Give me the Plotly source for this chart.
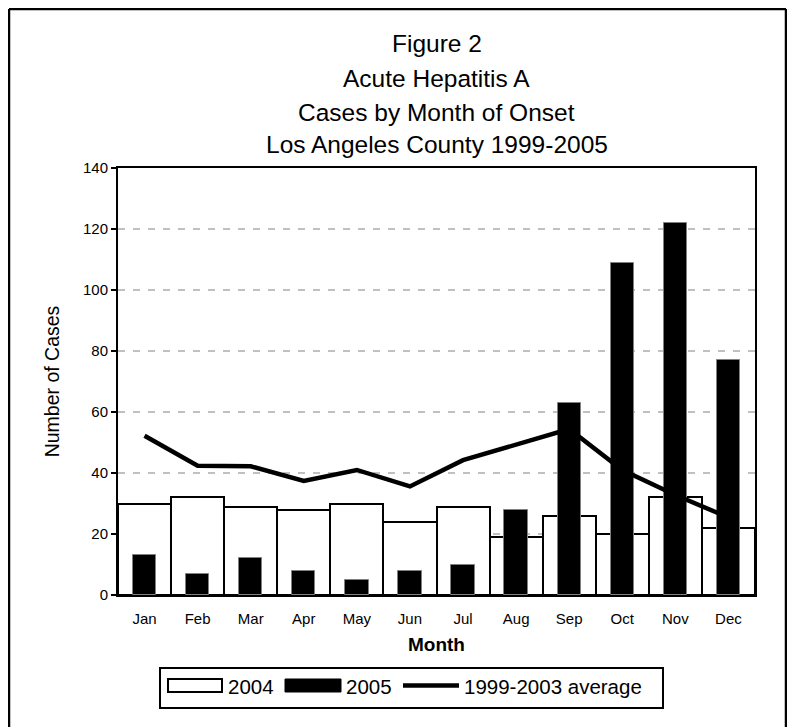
import plotly.graph_objects as go

months = ["Jan", "Feb", "Mar", "Apr", "May", "Jun", "Jul", "Aug", "Sep", "Oct", "Nov", "Dec"]
cases_2004 = [30, 32, 29, 28, 30, 24, 29, 19, 26, 20, 32, 22]
cases_2005 = [13, 7, 12, 8, 5, 8, 10, 28, 63, 109, 122, 77]
avg_1999_2003 = [52.2, 42.4, 42.2, 37.4, 41.0, 35.6, 44.2, 49.3, 54.4, 41.0, 32.8, 25.4]
series_names = ["2004", "2005", "1999-2003 average"]
title_lines = ["Figure 2", "Acute Hepatitis A", "Cases by Month of Onset", "Los Angeles County 1999-2005"]

OFF = 8  # default page body margin
W, H = 787, 719
L, R, T, B = 110, 40, 160, 132
PW, PH = W - L - R, H - T - B

def px(x):
    return ((x - OFF) - L) / PW

def py(y):
    return ((H - B) - (y - OFF)) / PH

FONT = "Liberation Sans, Arial, sans-serif"

fig = go.Figure()
fig.add_trace(go.Bar(x=months, y=cases_2004, name=series_names[0], width=1.0, showlegend=False,
                     marker=dict(color="white", line=dict(color="black", width=2))))
fig.add_trace(go.Bar(x=months, y=cases_2005, name=series_names[1], width=0.44, showlegend=False,
                     marker=dict(color="black", line=dict(color="#808080", width=1))))
fig.add_trace(go.Scatter(x=months, y=avg_1999_2003, name=series_names[2], mode="lines", showlegend=False,
                         line=dict(color="black", width=4.5)))

annotations = []
title_y = [44, 78, 112, 145]
for txt, yy in zip(title_lines, title_y):
    annotations.append(dict(text=txt, x=px(436.5), y=py(yy), xref="paper", yref="paper",
                            showarrow=False, xanchor="center", yanchor="middle",
                            font=dict(size=24.5, color="black", family=FONT)))

# frame around the figure
shapes = [
    dict(type="line", xref="paper", yref="paper", x0=px(9), x1=px(9), y0=py(9), y1=py(740),
         line=dict(color="black", width=2.5)),
    dict(type="line", xref="paper", yref="paper", x0=px(9), x1=px(786), y0=py(9), y1=py(9),
         line=dict(color="black", width=2.5)),
    dict(type="line", xref="paper", yref="paper", x0=px(786), x1=px(786), y0=py(9), y1=py(740),
         line=dict(color="black", width=2.5)),
]

# legend box and keys
shapes.append(dict(type="rect", xref="paper", yref="paper", x0=px(160), x1=px(663), y0=py(668), y1=py(708),
                   line=dict(color="black", width=2), fillcolor="white", layer="above"))
shapes.append(dict(type="rect", xref="paper", yref="paper", x0=px(168), x1=px(222), y0=py(679), y1=py(692),
                   line=dict(color="black", width=2), fillcolor="white", layer="above"))
shapes.append(dict(type="rect", xref="paper", yref="paper", x0=px(285), x1=px(341), y0=py(679), y1=py(692),
                   line=dict(color="black", width=1), fillcolor="black", layer="above"))
shapes.append(dict(type="line", xref="paper", yref="paper", x0=px(403), x1=px(459), y0=py(685.5), y1=py(685.5),
                   line=dict(color="black", width=4.5), layer="above"))
for txt, xx in zip(series_names, [226, 344, 462]):
    annotations.append(dict(text=txt, x=px(xx), y=py(686.5), xref="paper", yref="paper",
                            showarrow=False, xanchor="left", yanchor="middle",
                            font=dict(size=20.5, color="black", family=FONT)))

fig.update_layout(
    width=W, height=H,
    margin=dict(l=L, r=R, t=T, b=B),
    paper_bgcolor="white", plot_bgcolor="white",
    barmode="overlay", bargap=0,
    font=dict(family=FONT, color="black"),
    showlegend=False,
    annotations=annotations,
    shapes=shapes,
)
fig.update_xaxes(
    showline=True, linecolor="black", linewidth=2, mirror=True,
    ticks="outside", ticklen=9, tickcolor="rgba(0,0,0,0)",
    tickfont=dict(size=15), showgrid=False,
    title=dict(text="<b>Month</b>", font=dict(size=19), standoff=12),
)
fig.update_yaxes(
    range=[0, 140], dtick=20, showline=True, linecolor="black", linewidth=2, mirror=True,
    ticks="outside", ticklen=5, tickcolor="black", tickwidth=2,
    tickfont=dict(size=15),
    showgrid=True, gridcolor="#c0c0c0", gridwidth=2, griddash="7px,8px",
    zeroline=False,
    title=dict(text="Number of Cases", font=dict(size=19.5), standoff=18),
)

fig.write_html("out.html")
